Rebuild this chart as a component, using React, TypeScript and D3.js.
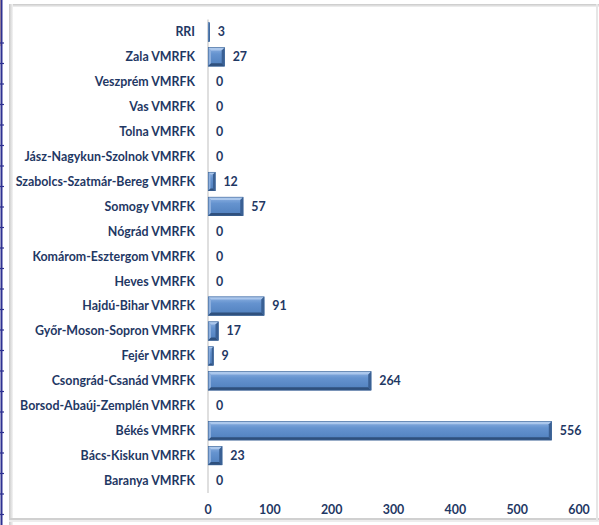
import React from "react";
import * as d3 from "d3";

const categories = [
  "RRI",
  "Zala VMRFK",
  "Veszprém VMRFK",
  "Vas VMRFK",
  "Tolna VMRFK",
  "Jász-Nagykun-Szolnok VMRFK",
  "Szabolcs-Szatmár-Bereg VMRFK",
  "Somogy VMRFK",
  "Nógrád VMRFK",
  "Komárom-Esztergom VMRFK",
  "Heves VMRFK",
  "Hajdú-Bihar VMRFK",
  "Győr-Moson-Sopron VMRFK",
  "Fejér VMRFK",
  "Csongrád-Csanád VMRFK",
  "Borsod-Abaúj-Zemplén VMRFK",
  "Békés VMRFK",
  "Bács-Kiskun VMRFK",
  "Baranya VMRFK",
];
const values = [3, 27, 0, 0, 0, 0, 12, 57, 0, 0, 0, 91, 17, 9, 264, 0, 556, 23, 0];
const xTicks = [0, 100, 200, 300, 400, 500, 600];

const W = 599;
const H = 525;
const FONT = "Lato, 'Open Sans', sans-serif";
const TEXT = "#1F3864";
const FS = 12.4;

export default function App() {
  const x = d3.scaleLinear().domain([0, 600]).range([208, 579]);
  const y = d3
    .scaleBand<string>()
    .domain(categories)
    .range([19.5, 493])
    .paddingInner(0.24)
    .paddingOuter(0.12);
  const bh = y.bandwidth();

  const leftTicks = d3.range(43, H, 20.5);

  return (
    <svg
      width={W}
      height={H}
      style={{ position: "absolute", left: 0, top: 0, background: "#fff" }}
      fontFamily={FONT}
    >
      <defs>
        <linearGradient id="barG" x1="0" y1="0" x2="0" y2="1">
          <stop offset="0" stopColor="#8fb3e3" />
          <stop offset="0.35" stopColor="#6593cf" />
          <stop offset="1" stopColor="#4f7fbd" />
        </linearGradient>
        <linearGradient id="frameTop" x1="0" y1="0" x2="0" y2="1">
          <stop offset="0" stopColor="#c8c8c8" />
          <stop offset="1" stopColor="#f2f2f2" />
        </linearGradient>
        <linearGradient id="frameLeft" x1="0" y1="0" x2="1" y2="0">
          <stop offset="0" stopColor="#c8c8c8" />
          <stop offset="1" stopColor="#f4f4f4" />
        </linearGradient>
      </defs>

      {/* left table remnant */}
      <rect x={0} y={0} width={2} height={46} fill="#f2c9a0" />
      <rect x={0.5} y={0} width={2} height={H} fill="#2e3192" />
      {leftTicks.map((t, i) => (
        <line key={i} x1={0} y1={t} x2={4} y2={t} stroke="#2e3192" strokeWidth={1.2} />
      ))}

      {/* frame */}
      <rect x={9} y={4} width={W - 9} height={H - 4} fill="#fff" />
      <rect x={9} y={4} width={W - 9} height={3} fill="url(#frameTop)" />
      <rect x={9} y={4} width={4} height={H - 4} fill="url(#frameLeft)" />
      <rect x={9} y={H - 7} width={W - 9} height={3} fill="#d0d0d0" />
      <rect x={9} y={H - 5} width={W - 9} height={2} fill="#ededed" />
      <rect x={W - 3} y={4} width={2} height={H - 8} fill="#e6e6e6" />

      {/* axis line */}
      <line x1={x(0)} y1={19.5} x2={x(0)} y2={493} stroke="#bfbfbf" strokeWidth={1} />

      {/* bars */}
      {categories.map((c, i) => {
        const v = values[i];
        const y0 = y(c)!;
        const x0 = x(0);
        const w = x(v) - x0;
        if (v === 0) return null;
        const b = Math.min(3, w / 3);
        const x1 = x0 + w;
        const y1 = y0 + bh;
        return (
          <g key={c}>
            <rect x={x0} y={y0} width={w} height={bh} fill="url(#barG)" />
            <polygon
              points={`${x0},${y0} ${x1},${y0} ${x1 - b},${y0 + b} ${x0 + b},${y0 + b}`}
              fill="#b3cdef"
              opacity={0.85}
            />
            <polygon
              points={`${x0},${y0} ${x0 + b},${y0 + b} ${x0 + b},${y1 - b} ${x0},${y1}`}
              fill="#8eb0de"
            />
            <polygon
              points={`${x0},${y1} ${x0 + b},${y1 - b} ${x1 - b},${y1 - b} ${x1},${y1}`}
              fill="#2f507d"
            />
            <polygon
              points={`${x1},${y0} ${x1},${y1} ${x1 - b},${y1 - b} ${x1 - b},${y0 + b}`}
              fill="#3a6094"
            />
            <rect
              x={x0 + 0.25}
              y={y0 + 0.25}
              width={w - 0.5}
              height={bh - 0.5}
              fill="none"
              stroke="#3d6496"
              strokeWidth={0.6}
            />
          </g>
        );
      })}

      {/* category labels */}
      {categories.map((c) => (
        <text
          key={c}
          x={195}
          y={y(c)! + bh / 2}
          dy="0.35em"
          textAnchor="end"
          fontSize={FS}
          fontWeight="bold"
          fill={TEXT}
        >
          {c}
        </text>
      ))}

      {/* value labels */}
      {categories.map((c, i) => (
        <text
          key={c}
          x={x(values[i]) + 8}
          y={y(c)! + bh / 2}
          dy="0.35em"
          fontSize={FS}
          fontWeight="bold"
          fill={TEXT}
        >
          {values[i]}
        </text>
      ))}

      {/* x tick labels */}
      {xTicks.map((t) => (
        <text
          key={t}
          x={x(t)}
          y={510}
          dy="0.35em"
          textAnchor="middle"
          fontSize={FS}
          fontWeight="bold"
          fill={TEXT}
        >
          {t}
        </text>
      ))}
    </svg>
  );
}
